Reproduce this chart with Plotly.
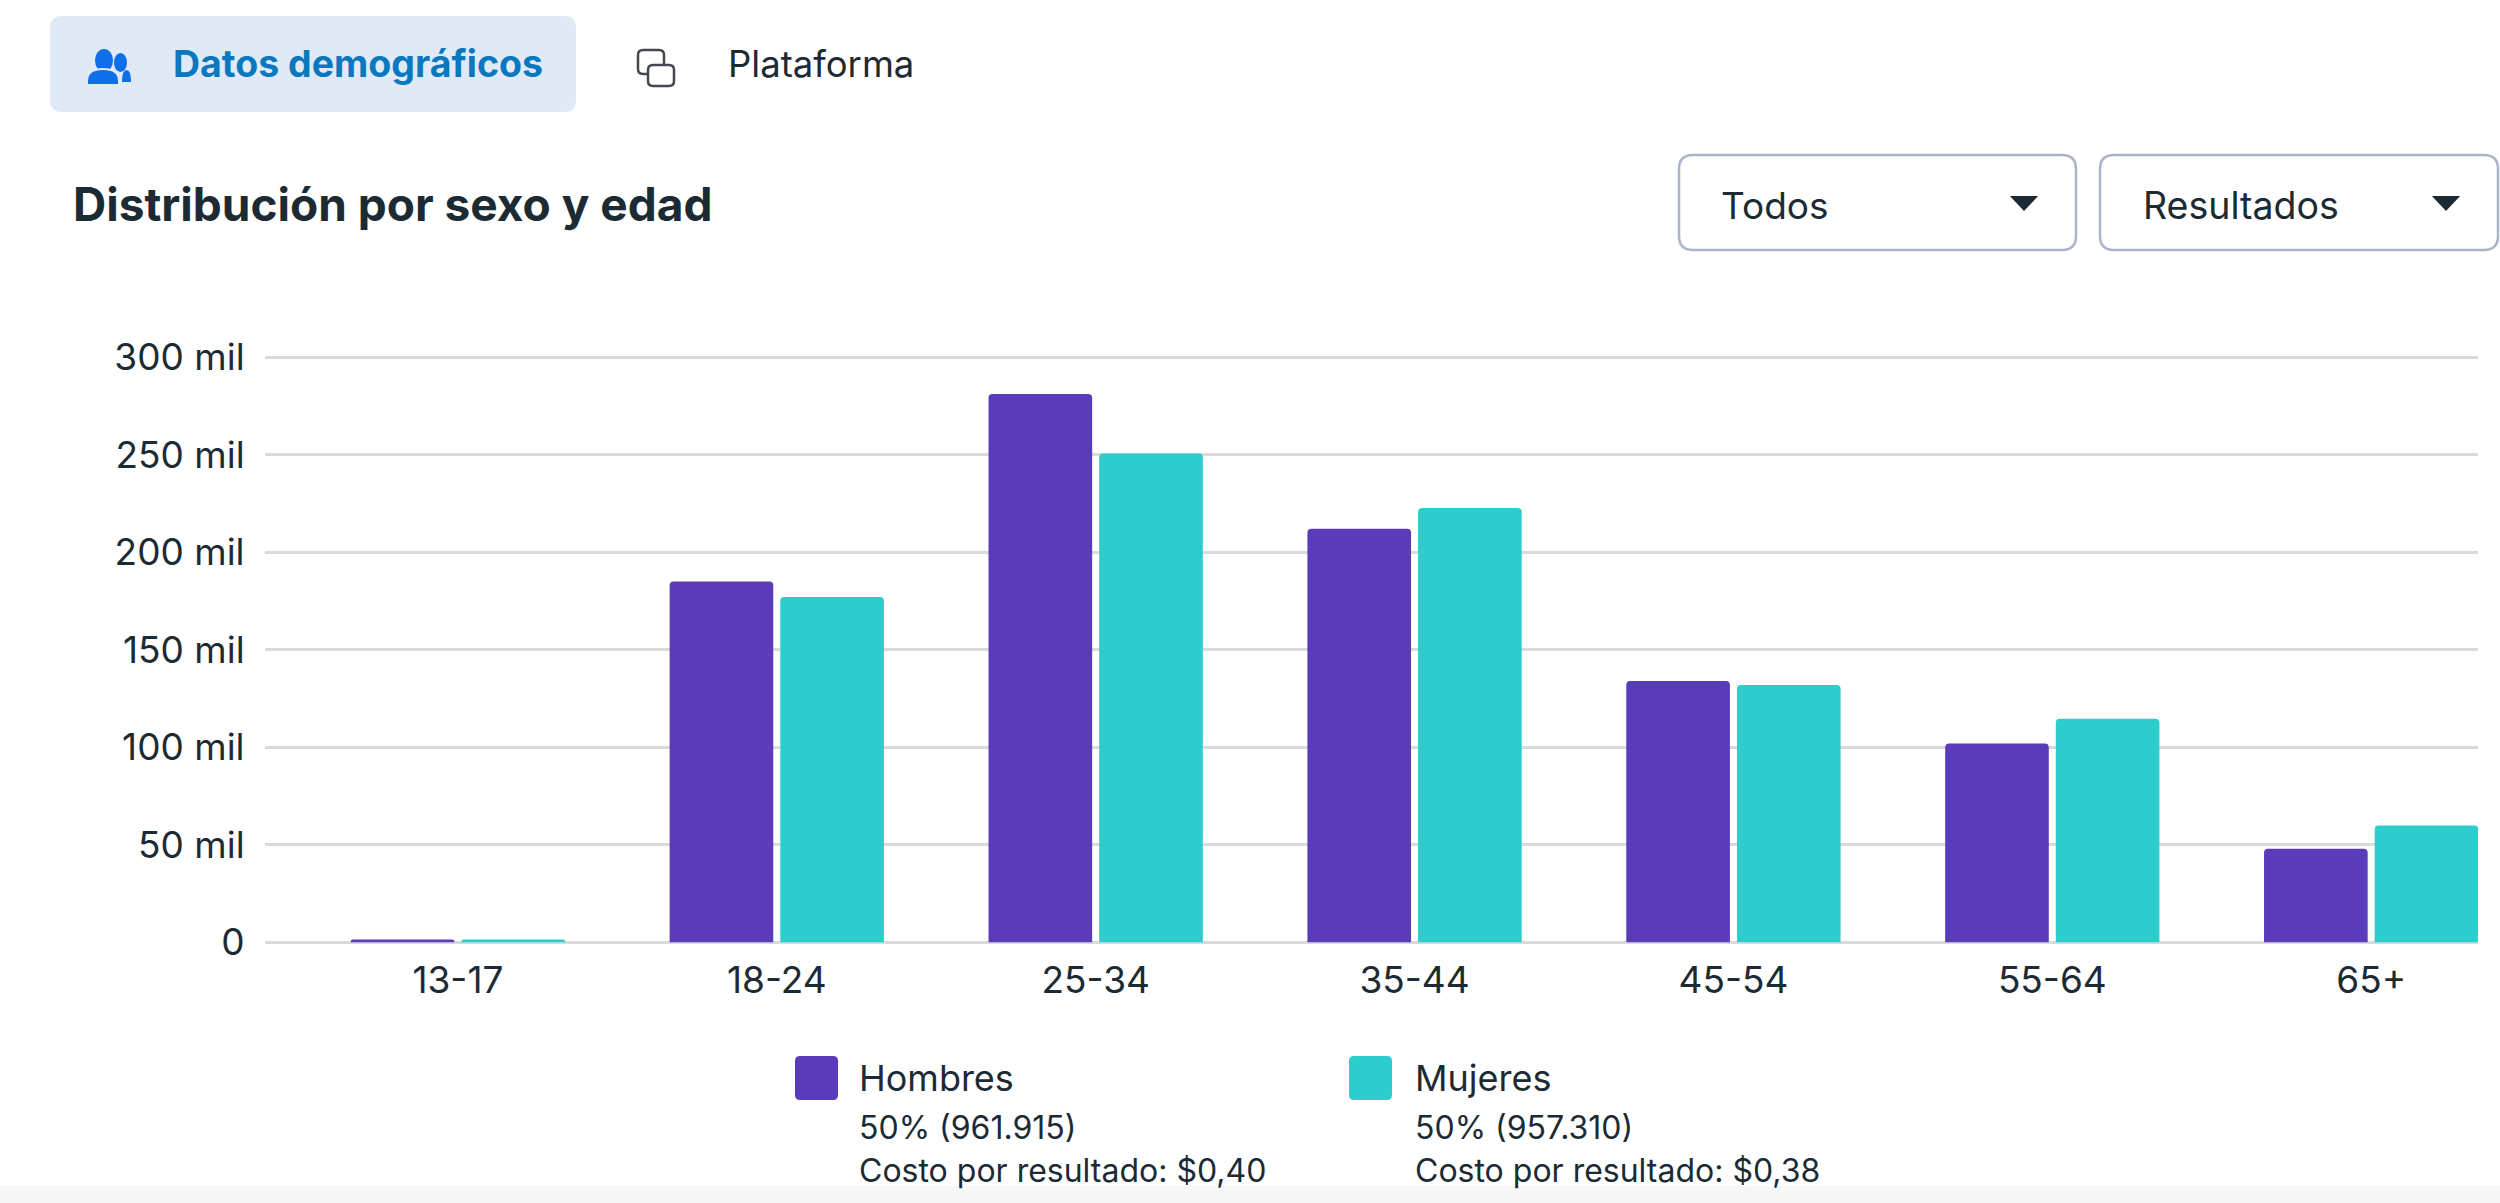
import plotly.graph_objects as go

W, H = 2500, 1203
FONT = "Inter, 'Noto Sans', sans-serif"
INK = "#1c2b33"

categories = ["13-17", "18-24", "25-34", "35-44", "45-54", "55-64", "65+"]
hombres = [1500, 185000, 281000, 212000, 134000, 102000, 48000]
mujeres = [1500, 177000, 250500, 222600, 132000, 114600, 60000]
y_ticks = [0, 50000, 100000, 150000, 200000, 250000, 300000]
y_labels = ["0", "50 mil", "100 mil", "150 mil", "200 mil", "250 mil", "300 mil"]
PURPLE = "#5a3bb9"
TEAL = "#2dcccd"
BLUE = "#0f6fe8"


def px(x):
    return x / W


def py(y):
    return 1 - y / H


def rrect(x0, y0, x1, y1, r):
    X0, X1, Y0, Y1 = px(x0), px(x1), py(y0), py(y1)
    rx, ry = r / W, r / H
    return (f"M{X0+rx},{Y0} L{X1-rx},{Y0} Q{X1},{Y0} {X1},{Y0-ry} L{X1},{Y1+ry} Q{X1},{Y1} {X1-rx},{Y1} "
            f"L{X0+rx},{Y1} Q{X0},{Y1} {X0},{Y1+ry} L{X0},{Y0-ry} Q{X0},{Y0} {X0+rx},{Y0} Z")


def shape_path(path, fill="rgba(0,0,0,0)", line=None, lw=0, layer="above"):
    return dict(type="path", xref="paper", yref="paper", path=path, fillcolor=fill,
                line=dict(color=line or "rgba(0,0,0,0)", width=lw), layer=layer)


def ellipse(x0, y0, x1, y1, fill):
    return dict(type="circle", xref="paper", yref="paper", x0=px(x0), x1=px(x1), y0=py(y1), y1=py(y0),
                fillcolor=fill, line=dict(width=0), layer="above")


def tri(cx, cy, w, h):
    return f"M{px(cx-w/2)},{py(cy-h/2)} L{px(cx+w/2)},{py(cy-h/2)} L{px(cx)},{py(cy+h/2)} Z"


def body(x0, x1, ytop, ybot):
    xm = (x0 + x1) / 2
    return (f"M{px(x0)},{py(ybot)} L{px(x0)},{py(ytop+12)} Q{px(x0)},{py(ytop)} {px(xm)},{py(ytop)} "
            f"Q{px(x1)},{py(ytop)} {px(x1)},{py(ytop+12)} L{px(x1)},{py(ybot)} Z")


def text(x, y, s, size, color=INK, bold=False, anchor="left"):
    return dict(xref="paper", yref="paper", x=px(x), y=py(y), text=f"<b>{s}</b>" if bold else s,
                showarrow=False, xanchor=anchor, yanchor="middle",
                font=dict(family=FONT, size=size, color=color), align="left")


fig = go.Figure()
fig.add_bar(name="Hombres", x=list(range(7)), y=hombres, marker=dict(color=PURPLE, cornerradius=4, line_width=0),
            width=0.325, offset=-0.336, showlegend=False)
fig.add_bar(name="Mujeres", x=list(range(7)), y=mujeres, marker=dict(color=TEAL, cornerradius=4, line_width=0),
            width=0.325, offset=0.011, showlegend=False)

shapes = [
    dict(type="rect", xref="paper", yref="paper", x0=0, x1=1, y0=0, y1=py(1186), fillcolor="#f7f7f7",
         line=dict(width=0), layer="below"),
    shape_path(rrect(50, 16, 576, 112, 12), fill="#dfeaf6", layer="below"),
    # people icon
    ellipse(95, 49, 113, 72, BLUE),
    ellipse(114, 53, 127, 72, BLUE),
    shape_path(body(122, 131, 70, 82), fill=BLUE),
    shape_path(body(87, 119, 69, 85), fill=BLUE, line="#dfeaf6", lw=2),
    # platform icon
    shape_path(rrect(638, 50, 664, 74, 5), line="#444950", lw=2.5),
    shape_path(rrect(648, 65, 674, 86, 5), fill="white", line="#444950", lw=2.5),
    # dropdowns
    shape_path(rrect(1679, 155, 2076, 250, 14), fill="white", line="#a9b6c9", lw=2.5),
    shape_path(rrect(2100, 155, 2498, 250, 14), fill="white", line="#a9b6c9", lw=2.5),
    shape_path(tri(2024, 203, 19, 10), fill=INK, line=INK, lw=4),
    shape_path(tri(2446, 203, 19, 10), fill=INK, line=INK, lw=4),
    # legend swatches
    shape_path(rrect(795, 1056, 838, 1100, 5), fill=PURPLE),
    shape_path(rrect(1349, 1056, 1392, 1100, 5), fill=TEAL),
]

annotations = [
    text(171, 64, "Datos demográficos", 37.5, "#0a78be", True),
    text(726, 64, "Plataforma", 36.5),
    text(71, 204, "Distribución por sexo y edad", 46, INK, True),
    text(1719, 205, "Todos", 37),
    text(2141, 205, "Resultados", 37.5),
    text(857, 1078, "Hombres", 36),
    text(857, 1127, "50% (961.915)", 32),
    text(857, 1170, "Costo por resultado: $0,40", 32),
    text(1413, 1078, "Mujeres", 36),
    text(1413, 1127, "50% (957.310)", 32),
    text(1413, 1170, "Costo por resultado: $0,38", 32),
]

fig.update_layout(
    width=W, height=H, margin=dict(l=0, r=0, t=0, b=0), paper_bgcolor="white", plot_bgcolor="white",
    font=dict(family=FONT, color=INK, size=34), barmode="overlay", shapes=shapes, annotations=annotations,
    xaxis=dict(domain=[px(265), px(2478)], range=[-0.605, 6.335], tickvals=list(range(7)), ticktext=categories,
               showgrid=False, zeroline=False, showline=False, ticks="outside", ticklen=5,
               tickcolor="rgba(0,0,0,0)", tickfont=dict(size=37, color=INK), automargin=False),
    yaxis=dict(domain=[py(942.5), py(353)], range=[0, 302050], tickvals=y_ticks, ticktext=y_labels,
               gridcolor="#d9dadc", gridwidth=2.5, zeroline=True, zerolinecolor="#d9dadc", zerolinewidth=2.5,
               showline=False, ticks="outside", ticklen=12, tickcolor="rgba(0,0,0,0)",
               tickfont=dict(size=37, color=INK), automargin=False),
)

fig.write_html("out.html", config=dict(displayModeBar=False),
               post_script="document.body.style.margin='0';document.body.style.overflow='hidden';")
